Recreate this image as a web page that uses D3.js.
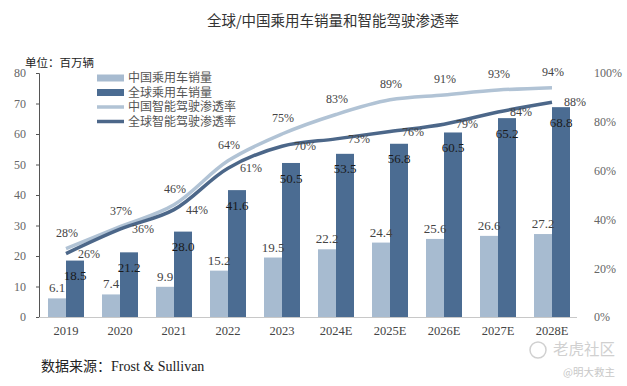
<!DOCTYPE html>
<html>
<head>
<meta charset="utf-8">
<script src="https://cdn.jsdelivr.net/npm/d3@7"></script>
<style>
  body { margin: 0; background: #fff; }
  svg { display: block; }
  .serif { font-family: "Liberation Serif", "DejaVu Serif", serif; }
  .cjk { font-family: "Noto Sans CJK SC", sans-serif; }
</style>
</head>
<body>
<div id="chart"></div>
<script>
// 数据
const years = ["2019", "2020", "2021", "2022", "2023", "2024E", "2025E", "2026E", "2027E", "2028E"];
const chinaSales = [6.1, 7.4, 9.9, 15.2, 19.5, 22.2, 24.4, 25.6, 26.6, 27.2];
const globalSales = [18.5, 21.2, 28.0, 41.6, 50.5, 53.5, 56.8, 60.5, 65.2, 68.8];
const chinaRate = [28, 37, 46, 64, 75, 83, 89, 91, 93, 94];
const globalRate = [26, 36, 44, 61, 70, 73, 76, 79, 84, 88];
const leftTicks = [0, 10, 20, 30, 40, 50, 60, 70, 80];
const rightTicks = [0, 20, 40, 60, 80, 100];

const W = 627, H = 386;
const plot = { left: 39, right: 579, top: 73, bottom: 317 };

const c = {
  cnBar: "#a7bbd0",
  glBar: "#4b6c92",
  cnLine: "#b1c3d5",
  glLine: "#4c6789"
};

const svg = d3.select("#chart").append("svg")
  .attr("width", W).attr("height", H);

// 比例尺
const x = d3.scaleBand().domain(years).range([plot.left, plot.right]);
const xs = d3.scaleBand().domain(["cn", "gl"]).range([9, x.bandwidth() - 9]);
const y = d3.scaleLinear().domain([0, 80]).range([plot.bottom, plot.top]);
const yr = d3.scaleLinear().domain([0, 100]).range([plot.bottom, plot.top]);

// 标题
svg.append("text").attr("class", "cjk")
  .attr("x", 333).attr("y", 21).attr("dy", "0.35em")
  .attr("text-anchor", "middle")
  .style("font-size", "14.5px").style("fill", "#333")
  .text("全球/中国乘用车销量和智能驾驶渗透率");

svg.append("text").attr("class", "cjk")
  .attr("x", 25).attr("y", 63).attr("dy", "0.35em")
  .style("font-size", "11.5px").style("fill", "#222")
  .text("单位：百万辆");

// 柱子
const g = svg.append("g");
years.forEach((yr_, i) => {
  g.append("rect")
    .attr("x", x(yr_) + xs("cn")).attr("width", xs.bandwidth())
    .attr("y", y(chinaSales[i])).attr("height", y(0) - y(chinaSales[i]))
    .attr("fill", c.cnBar);
  g.append("rect")
    .attr("x", x(yr_) + xs("gl")).attr("width", xs.bandwidth())
    .attr("y", y(globalSales[i])).attr("height", y(0) - y(globalSales[i]))
    .attr("fill", c.glBar);
});

// 坐标轴
const axL = svg.append("g")
  .attr("transform", `translate(${plot.left},0)`)
  .call(d3.axisLeft(y).tickValues(leftTicks).tickSize(3).tickPadding(10));
axL.select(".domain").attr("stroke", "#555");
axL.selectAll(".tick line").attr("stroke", "#555");
axL.selectAll("text").attr("class", "serif").style("font-size", "12px").style("fill", "#666");

const axR = svg.append("g")
  .attr("transform", `translate(${plot.right + 12},0)`)
  .call(d3.axisRight(yr).tickValues(rightTicks).tickSize(0).tickFormat(d => d + "%"));
axR.select(".domain").remove();
axR.selectAll("text").attr("class", "serif").style("font-size", "12px").style("fill", "#666");

const axB = svg.append("g")
  .attr("transform", `translate(0,${plot.bottom})`)
  .call(d3.axisBottom(x).tickSize(0).tickPadding(9));
axB.select(".domain").attr("stroke", "#c8c8c8").attr("d", `M${plot.left},0.5H${plot.right - 2}`);
axB.selectAll("text").attr("class", "serif").style("font-size", "12.5px").style("fill", "#444");

// 折线
const cx = d => x(d) + x.bandwidth() / 2;
const line = d3.line().curve(d3.curveCatmullRom.alpha(0.5))
  .x((d, i) => cx(years[i])).y(d => yr(d));

svg.append("path").datum(chinaRate)
  .attr("d", line).attr("fill", "none")
  .attr("stroke", c.cnLine).attr("stroke-width", 3.5);
svg.append("path").datum(globalRate)
  .attr("d", line).attr("fill", "none")
  .attr("stroke", c.glLine).attr("stroke-width", 3.5);

// 数据标签
const lab = svg.append("g").attr("class", "serif");
years.forEach((yr_, i) => {
  lab.append("text")
    .attr("x", x(yr_) + xs("cn") + xs.bandwidth() / 2)
    .attr("y", y(chinaSales[i]) - 6)
    .attr("text-anchor", "middle")
    .style("font-size", "13px").style("fill", "#444")
    .text(chinaSales[i].toFixed(1));
  lab.append("text")
    .attr("x", x(yr_) + xs("gl") + xs.bandwidth() / 2)
    .attr("y", y(globalSales[i]) + 15).attr("dy", "0.35em")
    .attr("text-anchor", "middle")
    .style("font-size", "13px").style("fill", "#1a1a1a")
    .text(globalSales[i].toFixed(1));
  lab.append("text")
    .attr("x", cx(yr_) + 1)
    .attr("y", yr(chinaRate[i]) - 16).attr("dy", "0.35em")
    .attr("text-anchor", "middle")
    .style("font-size", "12px").style("fill", "#444")
    .text(chinaRate[i] + "%");
  lab.append("text")
    .attr("x", cx(yr_) + 23)
    .attr("y", yr(globalRate[i])).attr("dy", "0.35em")
    .attr("text-anchor", "middle")
    .style("font-size", "12px").style("fill", "#444")
    .text(globalRate[i] + "%");
});

// 图例
const legend = [
  { name: "中国乘用车销量", type: "bar", color: c.cnBar },
  { name: "全球乘用车销量", type: "bar", color: c.glBar },
  { name: "中国智能驾驶渗透率", type: "line", color: c.cnLine },
  { name: "全球智能驾驶渗透率", type: "line", color: c.glLine }
];
const lg = svg.append("g").attr("transform", "translate(97,78)");
legend.forEach((d, i) => {
  const row = lg.append("g").attr("transform", `translate(0,${i * 14.5})`);
  if (d.type === "bar") {
    row.append("rect").attr("x", 0).attr("y", -3.5).attr("width", 27).attr("height", 7).attr("fill", d.color);
  } else {
    row.append("line").attr("x1", 0).attr("x2", 27).attr("y1", 0).attr("y2", 0)
      .attr("stroke", d.color).attr("stroke-width", 3.5);
  }
  row.append("text").attr("class", "cjk")
    .attr("x", 31).attr("y", 0).attr("dy", "0.35em")
    .style("font-size", "12px").style("fill", "#555")
    .text(d.name);
});

// 来源
const src = svg.append("text").attr("x", 41).attr("y", 366).attr("dy", "0.35em")
  .style("font-size", "14px").style("fill", "#222");
src.append("tspan").attr("class", "cjk").text("数据来源：");
src.append("tspan").attr("class", "serif").text("Frost & Sullivan");

// 水印
svg.append("circle").attr("cx", 538).attr("cy", 350).attr("r", 8)
  .attr("fill", "none").attr("stroke", "#d0d0d0").attr("stroke-width", 1.5);
svg.append("text").attr("class", "cjk")
  .attr("x", 553).attr("y", 350).attr("dy", "0.35em")
  .style("font-size", "15.5px").style("fill", "#d0d0d0")
  .text("老虎社区");
svg.append("text").attr("class", "cjk")
  .attr("x", 615).attr("y", 372).attr("dy", "0.35em").attr("text-anchor", "end")
  .style("font-size", "10.5px").style("fill", "#c8c8c8")
  .text("@明大救主");
</script>
</body>
</html>
